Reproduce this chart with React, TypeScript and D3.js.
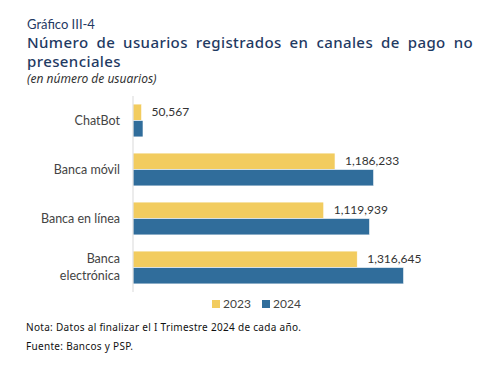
import React, { useEffect, useRef } from "react";
import * as d3 from "d3";

const categories = ["ChatBot", "Banca móvil", "Banca en línea", "Banca electrónica"];
const categoryLines = [["ChatBot"], ["Banca móvil"], ["Banca en línea"], ["Banca", "electrónica"]];
const values2023 = [50567, 1186233, 1119939, 1316645];
const values2024 = [58700, 1413000, 1389000, 1589000];
const seriesNames = ["2023", "2024"];
const colors = ["#F2CC5F", "#306D9B"];

const W = 478;
const H = 376;
const x0 = 133;
const yTop = 96;
const yBottom = 292;

export default function App() {
  const titleRef = useRef<SVGTextElement>(null);

  useEffect(() => {
    const t = titleRef.current;
    if (!t) return;
    t.setAttribute("word-spacing", "0");
    const len = t.getComputedTextLength();
    const target = 446;
    const gaps = 8;
    t.setAttribute("word-spacing", String((target - len) / gaps));
  }, []);

  const x = d3.scaleLinear().domain([0, 1000000]).range([x0, x0 + 170.3]);
  const y = d3.scaleBand<string>().domain(categories).range([yTop, yBottom]).paddingInner(0.33).paddingOuter(0.165);
  const sub = d3.scaleBand<string>().domain(seriesNames).range([0, y.bandwidth()]);
  const fmt = d3.format(",");
  const series = [values2023, values2024];

  return (
    <svg width={W} height={H} style={{ position: "absolute", left: 0, top: 0 }}>
      <rect width={W} height={H} fill="#fff" />
      <text x={27} y={29} fontFamily="Lato, 'Noto Sans', sans-serif" fontSize={13} fill="#1F3A63">Gráfico III-4</text>
      <text ref={titleRef} x={27} y={47.5} fontFamily="'Noto Sans', sans-serif" fontWeight={500} fontSize={15} fill="#1F3A63" letterSpacing={0.4}>
        Número de usuarios registrados en canales de pago no
      </text>
      <text x={27} y={66.5} fontFamily="'Noto Sans', sans-serif" fontWeight={500} fontSize={15} fill="#1F3A63" letterSpacing={0.4}>presenciales</text>
      <text x={27} y={83} fontFamily="'Noto Sans', sans-serif" fontStyle="italic" fontSize={12} fill="#333">(en número de usuarios)</text>

      {categories.map((c, i) => (
        <g key={c}>
          {series.map((vals, s) => (
            <rect
              key={s}
              x={x(0)}
              y={(y(c) as number) + (sub(seriesNames[s]) as number)}
              width={x(vals[i]) - x(0)}
              height={sub.bandwidth()}
              fill={colors[s]}
              stroke="#fff"
              strokeWidth={0.6}
            />
          ))}
          <text
            x={x(values2023[i]) + 10}
            y={(y(c) as number) + sub.bandwidth() / 2}
            dy="0.35em"
            fontFamily="Lato, sans-serif"
            fontSize={12}
            fill="#333"
          >
            {fmt(values2023[i])}
          </text>
          {categoryLines[i].map((ln, k) => (
            <text
              key={k}
              x={120}
              y={(y(c) as number) + y.bandwidth() / 2 + (k - (categoryLines[i].length - 1) / 2) * 17}
              dy="0.35em"
              textAnchor="end"
              fontFamily="Lato, sans-serif"
              fontSize={12.5}
              fill="#444"
            >
              {ln}
            </text>
          ))}
        </g>
      ))}
      <line x1={x0} x2={x0} y1={yTop} y2={yBottom} stroke="#D9D9D9" strokeWidth={1} />

      {seriesNames.map((s, i) => (
        <g key={s} transform={`translate(${212 + i * 50},300)`}>
          <rect x={0} y={0} width={8} height={8} fill={colors[i]} />
          <text x={11} y={4} dy="0.35em" fontFamily="Lato, sans-serif" fontSize={12} fill="#444">{s}</text>
        </g>
      ))}

      <text x={26} y={331} fontFamily="'Noto Sans', sans-serif" fontSize={10} fill="#111" textLength={275} lengthAdjust="spacing">Nota: Datos al finalizar el I Trimestre 2024 de cada año.</text>
      <text x={26} y={350} fontFamily="'Noto Sans', sans-serif" fontSize={10} fill="#111" textLength={107} lengthAdjust="spacing">Fuente: Bancos y PSP.</text>
    </svg>
  );
}
